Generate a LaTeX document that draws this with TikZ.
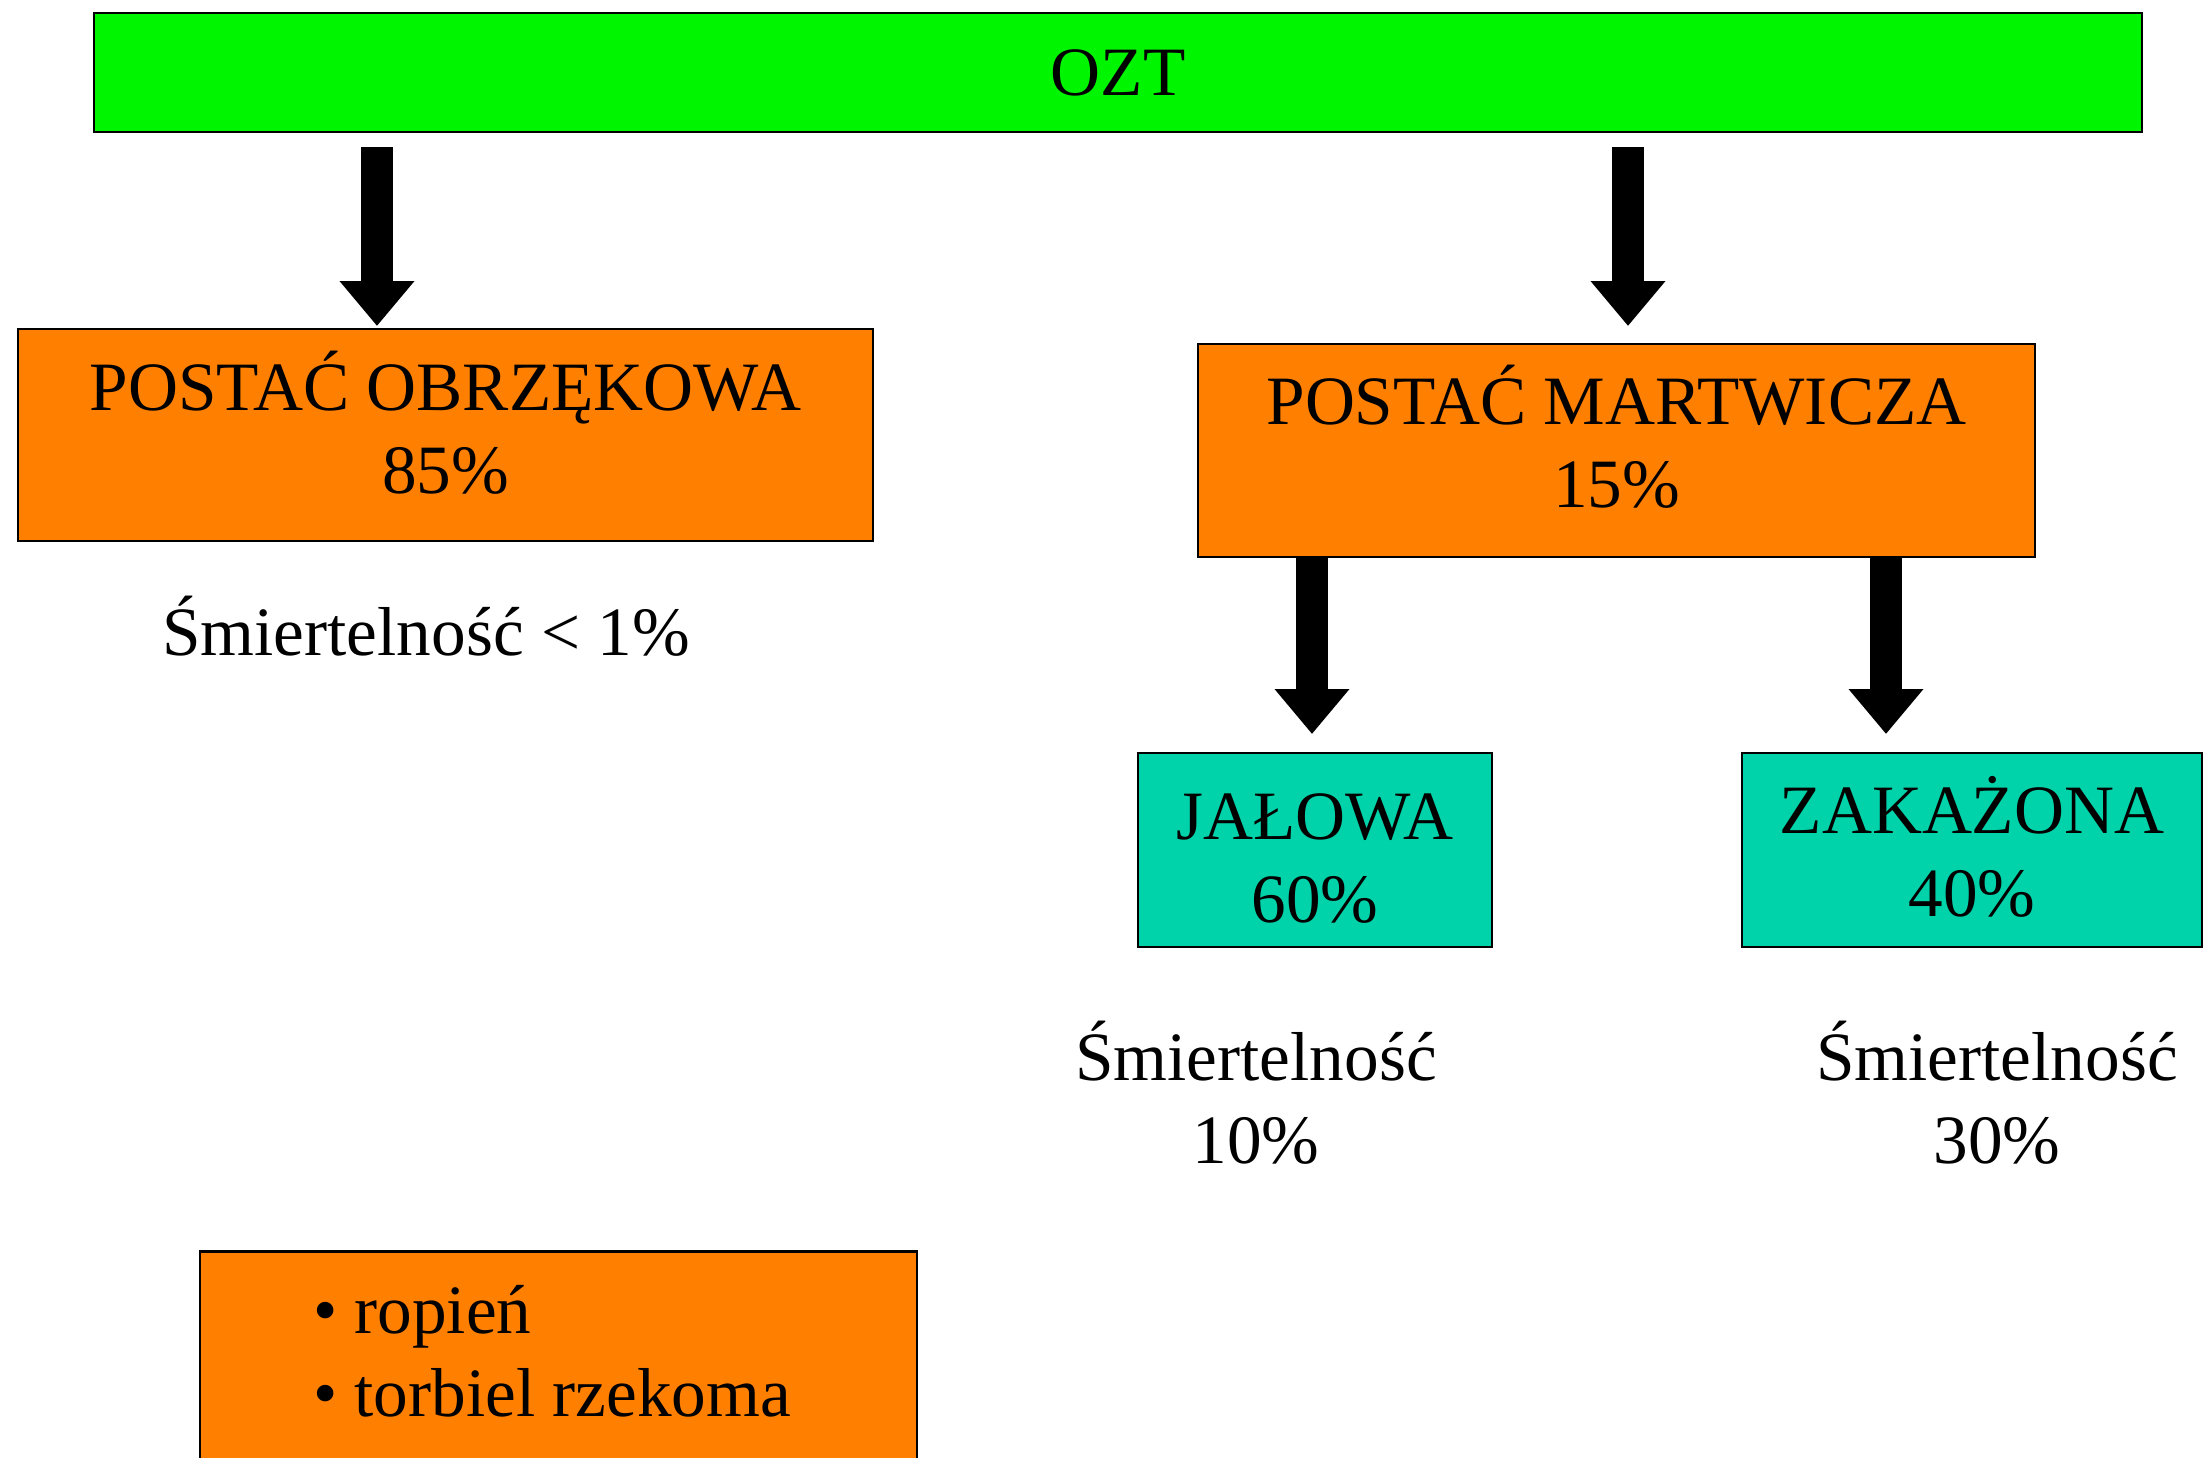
\documentclass[tikz,border=0pt]{standalone}
\usepackage{fontspec}
\setmainfont{Liberation Serif}
\usetikzlibrary{arrows.meta}
\definecolor{oztgreen}{RGB}{0,245,0}
\definecolor{formorange}{RGB}{255,127,0}
\definecolor{formteal}{RGB}{0,210,170}

\begin{document}
\begin{tikzpicture}[
  font=\fontsize{19.7}{23.6}\selectfont,
  box/.style={draw, line width=0.8pt, align=center, inner sep=0pt},
  bigarrow/.style={line width=9pt, -{Triangle[length=0.45cm, width=0.72cm]}}
]
  % page size
  \useasboundingbox (0,0) rectangle (22.05,-14.57);
  % main boxes
  \node[box, fill=oztgreen, minimum width=20.48cm, minimum height=1.19cm]
    (ozt) at (11.18,-0.725) {OZT};
  \node[box, fill=formorange, minimum width=8.55cm, text height=1.64cm,
    text depth=0.48cm] (obrz) at (4.455,-4.35) {POSTAĆ OBRZĘKOWA\\85\%};
  \node[box, fill=formorange, minimum width=8.37cm, text height=1.63cm,
    text depth=0.50cm] (martw) at (16.165,-4.505) {POSTAĆ MARTWICZA\\15\%};
  \node[box, fill=formteal, minimum width=3.54cm, text height=1.69cm,
    text depth=0.25cm] (jalowa) at (13.15,-8.50) {JAŁOWA\\60\%};
  \node[box, fill=formteal, minimum width=4.60cm, text height=1.63cm,
    text depth=0.31cm] (zakaz) at (19.72,-8.50) {ZAKAŻONA\\40\%};
  % mortality
  \node (smObrz) at (4.26,-6.26) {Śmiertelność < 1\%};
  \node[align=center] (smJal) at (12.56,-10.93) {Śmiertelność\\10\%};
  \node[align=center] (smZak) at (19.97,-10.93) {Śmiertelność\\30\%};
  % complications box
  \node[box, fill=formorange, minimum width=7.17cm, minimum height=2.4cm,
    anchor=north] (powikl) at (5.585,-12.50) {};
  \node[align=left] (lista) at (5.52,-13.51)
    {\textbullet\ ropień\\\textbullet\ torbiel rzekoma};
  % arrow tips
  \coordinate (obrzTip) at (3.77,-3.26);
  \coordinate (martwTip) at (16.28,-3.26);
  \coordinate (jalTip) at (13.12,-7.34);
  \coordinate (zakTip) at (18.86,-7.34);
  % draw arrows
  \draw[bigarrow] ([yshift=-1.4mm]ozt.south -| obrzTip) -- (obrzTip);
  \draw[bigarrow] ([yshift=-1.4mm]ozt.south -| martwTip) -- (martwTip);
  \draw[bigarrow] (martw.south -| jalTip) -- (jalTip);
  \draw[bigarrow] (martw.south -| zakTip) -- (zakTip);
\end{tikzpicture}
\end{document}
